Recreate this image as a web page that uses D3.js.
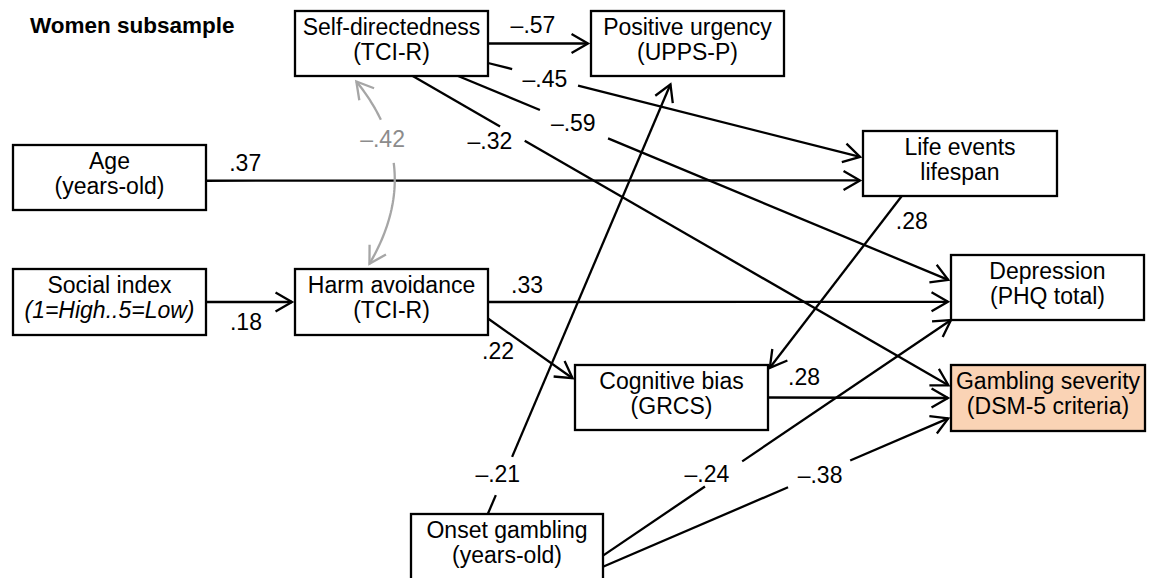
<!DOCTYPE html>
<html>
<head>
<meta charset="utf-8">
<script src="https://cdn.jsdelivr.net/npm/d3@7"></script>
<style>
  body { margin: 0; background: #fff; }
  svg { display: block; font-family: "Liberation Sans", Arial, sans-serif; }
</style>
</head>
<body>
<script>
// variables (boxes) of the path model
const nodeIds   = ["sd", "pu", "age", "le", "social", "ha", "dep", "cb", "gamb", "onset"];
const nodeLine1 = ["Self-directedness", "Positive urgency", "Age", "Life events", "Social index",
                   "Harm avoidance", "Depression", "Cognitive bias", "Gambling severity", "Onset gambling"];
const nodeLine2 = ["(TCI-R)", "(UPPS-P)", "(years-old)", "lifespan", "(1=High..5=Low)",
                   "(TCI-R)", "(PHQ total)", "(GRCS)", "(DSM-5 criteria)", "(years-old)"];

// direct paths and standardized coefficients
const edgeFrom = ["sd", "sd", "sd", "sd", "age", "social", "ha", "ha", "le", "cb", "onset", "onset", "onset"];
const edgeTo   = ["pu", "le", "dep", "gamb", "le", "ha", "dep", "cb", "cb", "gamb", "pu", "dep", "gamb"];
const edgeCoef = ["–.57", "–.45", "–.59", "–.32", ".37", ".18", ".33", ".22", ".28", ".28", "–.21", "–.24", "–.38"];

// covariance (curved, two-headed)
const covFrom = "sd", covTo = "ha", covCoef = "–.42";

const title = "Women subsample";

// ---- layout ----
const width = 1153, height = 578;
const boxes = {
  sd:     [295, 11, 193, 65],
  pu:     [591, 11, 193, 65],
  age:    [13, 145, 193, 65],
  le:     [863, 131, 194, 65],
  social: [13, 269, 193, 66],
  ha:     [295, 269, 193, 66],
  dep:    [951, 255, 193, 65],
  cb:     [575, 365, 193, 65],
  gamb:   [951, 365, 194, 66],
  onset:  [411, 514, 192, 66]
};
const italicSecond = { social: true };
const highlight = { gamb: "#fad3b5" };

// anchors on boxes (fractions), arrow pad, label placement, gap along the line
const edgeLayout = [
  { s: [1, .5],    e: [0, .5],   pad: 3, t: .45,  dx: 0,     dy: -10.5 },
  { s: [1, .8],    e: [0, .41],  pad: 3, t: .153, dx: 0,     dy: 9.5,  gap: [.065, .242] },
  { s: [.845, 1],  e: [0, .4],   pad: 3, t: .235, dx: 0,     dy: 6.8,  gap: [.167, .306] },
  { s: [.61, 1],   e: [0, .33],  pad: 3, t: .144, dx: 0,     dy: 28,   gap: [.163, .209] },
  { s: [1, .55],   e: [0, .76],  pad: 3, t: .06,  dx: 0,     dy: -9.75 },
  { s: [1, .5],    e: [0, .5],   pad: 3, t: .465, dx: 0,     dy: 28 },
  { s: [1, .5],    e: [0, .72],  pad: 3, t: .085, dx: 0,     dy: -9 },
  { s: [1, .75],   e: [0, .23],  pad: 3, t: 0,    dx: 10,    dy: 40.5 },
  { s: [.2, 1],    e: [1, .08],  pad: 3, t: 0,    dx: 10,    dy: 33 },
  { s: [1, .5],    e: [0, .5],   pad: 3, t: .2,   dx: 0,     dy: -12.5 },
  { s: [.4, 0],    e: [.43, 1],  pad: 9, t: .093, dx: -7,    dy: 8,    gap: [.044, .133] },
  { s: [1, .63],   e: [0, 1],    pad: 0, t: .346, dx: -16.5, dy: 8,    gap: [.293, .40] },
  { s: [1, .8],    e: [0, .79],  pad: 3, t: .62,  dx: 3,     dy: 8,    gap: [.536, .716] }
];
const covLayout = { s: [.295, 1], e: [.37, 0], padS: 7, padE: 6, bend: 67, t: .33, dx: -6, dy: 8, gap: [.22, .46] };

const fontSize = 23;
const strokeW = 2.3;
const headLen = 19, headAng = Math.PI / 6;
const ink = "#000", grey = "#a6a6a6";

const svg = d3.select("body").append("svg")
  .attr("width", width)
  .attr("height", height)
  .attr("viewBox", `0 0 ${width} ${height}`);

svg.append("rect").attr("width", width).attr("height", height).attr("fill", "#fff");

function anchor(id, f) {
  const b = boxes[id];
  return [b[0] + f[0] * b[2], b[1] + f[1] * b[3]];
}

function arrowHead(g, tip, ux, uy, color) {
  const pts = [-1, 1].map(sgn => {
    const c = Math.cos(sgn * headAng), s = Math.sin(sgn * headAng);
    const rx = ux * c - uy * s, ry = ux * s + uy * c;
    return [tip[0] - headLen * rx, tip[1] - headLen * ry];
  });
  g.append("path")
    .attr("d", d3.line()([pts[0], tip, pts[1]]))
    .attr("fill", "none")
    .attr("stroke", color)
    .attr("stroke-width", strokeW);
}

const line = d3.line();

// ---- straight paths ----
const edgeG = svg.append("g").attr("class", "edges");

edgeFrom.forEach((from, i) => {
  const L = edgeLayout[i];
  const p0 = anchor(from, L.s);
  const pe = anchor(edgeTo[i], L.e);
  const len = Math.hypot(pe[0] - p0[0], pe[1] - p0[1]);
  const ux = (pe[0] - p0[0]) / len, uy = (pe[1] - p0[1]) / len;
  const tip = [pe[0] - ux * L.pad, pe[1] - uy * L.pad];
  const at = t => [p0[0] + (tip[0] - p0[0]) * t, p0[1] + (tip[1] - p0[1]) * t];

  const segs = L.gap ? [[0, L.gap[0]], [L.gap[1], 1]] : [[0, 1]];
  segs.forEach(sg => {
    edgeG.append("path")
      .attr("d", line([at(sg[0]), at(sg[1])]))
      .attr("stroke", ink)
      .attr("stroke-width", strokeW)
      .attr("fill", "none");
  });
  arrowHead(edgeG, tip, ux, uy, ink);

  const lp = at(L.t);
  edgeG.append("text")
    .attr("x", lp[0] + L.dx)
    .attr("y", lp[1] + L.dy)
    .attr("text-anchor", "middle")
    .attr("font-size", fontSize)
    .attr("fill", ink)
    .text(edgeCoef[i]);
});

// ---- covariance curve ----
(function () {
  const C = covLayout;
  const a = anchor(covFrom, C.s), b = anchor(covTo, C.e);
  const mx = (a[0] + b[0]) / 2, my = (a[1] + b[1]) / 2;
  const dl = Math.hypot(b[0] - a[0], b[1] - a[1]);
  // normal of the a->b direction (points to screen right here)
  const nx = -(b[1] - a[1]) / dl, ny = (b[0] - a[0]) / dl;
  const ctrl = [mx - nx * C.bend, my - ny * C.bend];
  // pull the ends back along the tangent
  const tanA = [a[0] - ctrl[0], a[1] - ctrl[1]], la = Math.hypot(...tanA);
  const tanB = [b[0] - ctrl[0], b[1] - ctrl[1]], lb = Math.hypot(...tanB);
  const p0 = [a[0] - tanA[0] / la * C.padS, a[1] - tanA[1] / la * C.padS];
  const p2 = [b[0] - tanB[0] / lb * C.padE, b[1] - tanB[1] / lb * C.padE];
  const q = t => [
    (1 - t) * (1 - t) * p0[0] + 2 * t * (1 - t) * ctrl[0] + t * t * p2[0],
    (1 - t) * (1 - t) * p0[1] + 2 * t * (1 - t) * ctrl[1] + t * t * p2[1]
  ];
  const g = svg.append("g").attr("class", "cov");
  [[0, C.gap[0]], [C.gap[1], 1]].forEach(sg => {
    const pts = d3.range(0, 31).map(k => q(sg[0] + (sg[1] - sg[0]) * k / 30));
    g.append("path")
      .attr("d", line(pts))
      .attr("fill", "none")
      .attr("stroke", grey)
      .attr("stroke-width", strokeW);
  });
  const u0 = [p0[0] - ctrl[0], p0[1] - ctrl[1]], l0 = Math.hypot(...u0);
  const u2 = [p2[0] - ctrl[0], p2[1] - ctrl[1]], l2 = Math.hypot(...u2);
  arrowHead(g, p0, u0[0] / l0, u0[1] / l0, grey);
  arrowHead(g, p2, u2[0] / l2, u2[1] / l2, grey);
  const lp = q(C.t);
  g.append("text")
    .attr("x", lp[0] + C.dx)
    .attr("y", lp[1] + C.dy)
    .attr("text-anchor", "middle")
    .attr("font-size", fontSize)
    .attr("fill", "#8c8c8c")
    .text(covCoef);
})();

// ---- boxes ----
const nodeG = svg.append("g").attr("class", "nodes")
  .selectAll("g")
  .data(nodeIds)
  .join("g")
  .attr("transform", d => `translate(${boxes[d][0]},${boxes[d][1]})`);

nodeG.append("rect")
  .attr("width", d => boxes[d][2])
  .attr("height", d => boxes[d][3])
  .attr("fill", d => highlight[d] || "#fff")
  .attr("stroke", ink)
  .attr("stroke-width", strokeW);

nodeG.append("text")
  .attr("x", d => boxes[d][2] / 2)
  .attr("y", 24)
  .attr("text-anchor", "middle")
  .attr("font-size", fontSize)
  .text((d, i) => nodeLine1[i]);

nodeG.append("text")
  .attr("x", d => boxes[d][2] / 2)
  .attr("y", 49)
  .attr("text-anchor", "middle")
  .attr("font-size", fontSize)
  .attr("font-style", d => italicSecond[d] ? "italic" : null)
  .text((d, i) => nodeLine2[i]);

svg.append("text")
  .attr("x", 30)
  .attr("y", 33)
  .attr("font-size", 22.5)
  .attr("font-weight", "bold")
  .text(title);
</script>
</body>
</html>
